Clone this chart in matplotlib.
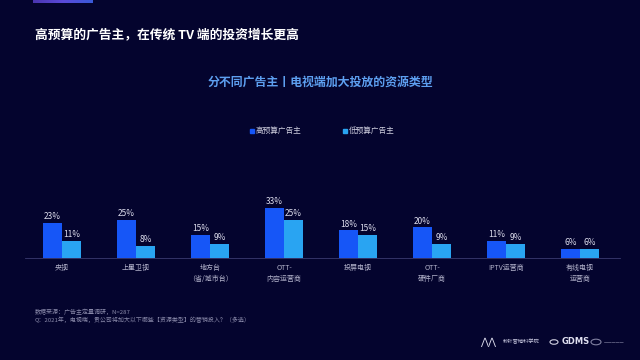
import matplotlib
matplotlib.use("Agg")
import matplotlib.pyplot as plt
import numpy as np
from matplotlib.colors import LinearSegmentedColormap

plt.rcParams['font.family'] = ['Noto Sans CJK SC', 'DejaVu Sans']

categories = ["央视", "上星卫视", "地方台\n（省/城市台）", "OTT-\n内容运营商",
              "投屏电视", "OTT-\n硬件厂商", "IPTV运营商", "有线电视\n运营商"]
high_budget = [23, 25, 15, 33, 18, 20, 11, 6]
low_budget = [11, 8, 9, 25, 15, 9, 9, 6]
series_names = ["高预算广告主", "低预算广告主"]

BG = "#04042e"
C_HIGH = "#1656f7"
C_LOW = "#29a4f2"

W, H = 640, 360
fig = plt.figure(figsize=(6.4, 3.6), dpi=100, facecolor=BG)

def fx(px):
    return px / W

def fy(py):
    return 1 - py / H

# top decoration bar
deco = fig.add_axes([fx(33), fy(3), fx(60), 3 / H])
grad = np.linspace(0, 1, 100).reshape(1, -1)
cm = LinearSegmentedColormap.from_list("d", ["#4a35b0", "#5b4ad8", "#3a5ad8"])
deco.imshow(grad, aspect="auto", cmap=cm)
deco.axis("off")

# titles
fig.text(fx(35), fy(35), "高预算的广告主，在传统 TV 端的投资增长更高", color="white",
         fontsize=9.2, fontweight="bold", ha="left", va="center")
fig.text(fx(320), fy(82), "分不同广告主丨电视端加大投放的资源类型", color="#5d9ff0",
         fontsize=8.6, fontweight="bold", ha="center", va="center")

# legend
for px, name, c in [(252, series_names[0], C_HIGH), (345, series_names[1], C_LOW)]:
    fig.patches.append(plt.Rectangle((fx(px - 2), fy(133)), 4 / W, 4 / H,
                                     transform=fig.transFigure, color=c, figure=fig))
    fig.text(fx(px + 4), fy(131), name, color="#d0d0e0", fontsize=5.5,
             ha="left", va="center")

# main axes
ax = fig.add_axes([fx(25), fy(258), fx(620) - fx(25), (258 - 150) / H])
ax.set_facecolor(BG)
x = np.arange(len(categories))
bw = 0.25
off = 0.13
b1 = ax.bar(x - off, high_budget, bw, color=C_HIGH)
b2 = ax.bar(x + off, low_budget, bw, color=C_LOW)
for bars, vals in [(b1, high_budget), (b2, low_budget)]:
    for rect, v in zip(bars, vals):
        ax.text(rect.get_x() + rect.get_width() / 2, v + 1.2, f"{v}%",
                ha="center", va="bottom", color="#dcdcec", fontsize=6)
ax.set_xlim(-0.5, 7.54)
ax.set_ylim(0, 70.6)
ax.set_xticks(x)
ax.set_xticklabels(categories, color="#b4b4cc", fontsize=5, linespacing=1.5)
ax.tick_params(axis="x", length=0, pad=4)
ax.set_yticks([])
for s in ["top", "right", "left"]:
    ax.spines[s].set_visible(False)
ax.spines["bottom"].set_color("#3a3a70")
ax.spines["bottom"].set_linewidth(0.6)

# footer
fig.text(fx(35), fy(312), "数据来源：广告主定量调研，N=287", color="#8a8aaa",
         fontsize=4.3, ha="left", va="center")
fig.text(fx(35), fy(320), "Q：2021年，电视端，贵公司将加大以下哪些【资源类型】的营销投入？（多选）",
         color="#8a8aaa", fontsize=4.3, ha="left", va="center")

# logos (text stand-ins)
fig.text(fx(480), fy(342), "⋀⋀", color="#e0e0f0", fontsize=7, ha="left", va="center",
         family=["DejaVu Sans"])
fig.text(fx(503), fy(342), "秒针营销科学院", color="#c8c8e0", fontsize=3.8, ha="left", va="center")
fig.text(fx(562), fy(341), "GDMS", color="#e0e0f0", fontsize=6, fontweight="bold",
         ha="left", va="center", family=["DejaVu Sans"])
fig.patches.append(plt.Circle((fx(554), fy(342)), 4 / W, transform=fig.transFigure,
                              fill=False, edgecolor="#d0d0e0", linewidth=0.8, figure=fig))
fig.patches.append(plt.Circle((fx(596), fy(342)), 5 / W, transform=fig.transFigure,
                              fill=False, edgecolor="#8080a0", linewidth=0.8, figure=fig))
fig.text(fx(604), fy(342), "一一一一一", color="#6a6a8a", fontsize=3, ha="left", va="center")

fig.savefig("out.png", dpi=100, facecolor=BG)
